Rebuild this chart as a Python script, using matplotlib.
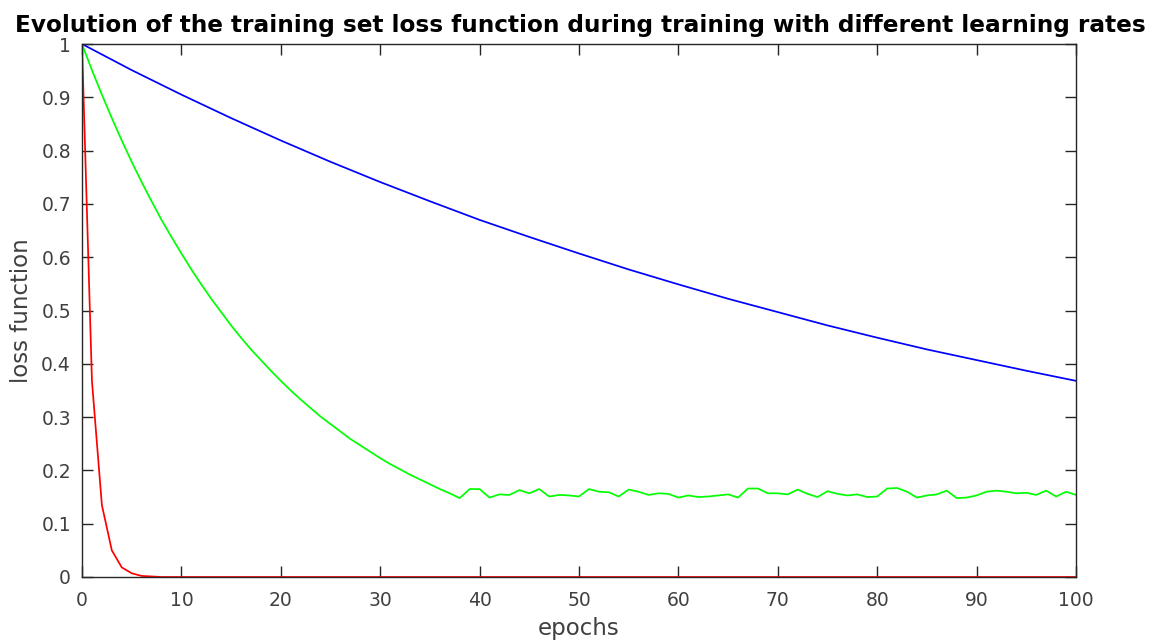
#!/usr/bin/env python3
"""Training set loss vs epochs for three learning rates."""

import matplotlib
matplotlib.use("Agg")
import matplotlib.pyplot as plt
from matplotlib.ticker import FuncFormatter

# slow learning rate (blue), read every 5 epochs
blue_epochs = [0, 5, 10, 15, 20, 25, 30, 35, 40, 45, 50,
               55, 60, 65, 70, 75, 80, 85, 90, 95, 100]
blue_loss = [1.000, 0.951, 0.905, 0.861, 0.819, 0.779, 0.741, 0.705, 0.670, 0.638, 0.607,
             0.577, 0.549, 0.522, 0.497, 0.472, 0.449, 0.427, 0.407, 0.387, 0.368]

# medium learning rate (green), one value per epoch
green_epochs = list(range(0, 101))
green_loss = [
    1.000, 0.951, 0.905, 0.861, 0.819, 0.779, 0.741, 0.705, 0.670, 0.638,
    0.607, 0.577, 0.549, 0.522, 0.497, 0.472, 0.449, 0.427, 0.407, 0.387,
    0.368, 0.350, 0.333, 0.317, 0.301, 0.287, 0.273, 0.259, 0.247, 0.235,
    0.223, 0.212, 0.202, 0.192, 0.183, 0.174, 0.165, 0.157, 0.148, 0.165,
    0.165, 0.149, 0.155, 0.154, 0.163, 0.157, 0.165, 0.151, 0.154, 0.153,
    0.151, 0.165, 0.160, 0.159, 0.151, 0.164, 0.160, 0.154, 0.157, 0.156,
    0.149, 0.153, 0.150, 0.151, 0.153, 0.155, 0.149, 0.166, 0.166, 0.157,
    0.157, 0.155, 0.164, 0.156, 0.150, 0.161, 0.156, 0.153, 0.155, 0.150,
    0.151, 0.166, 0.167, 0.160, 0.149, 0.153, 0.155, 0.162, 0.148, 0.149,
    0.153, 0.160, 0.162, 0.160, 0.157, 0.158, 0.154, 0.162, 0.151, 0.160,
    0.154,
]

# fast learning rate (red)
red_epochs = [0, 1, 2, 3, 4, 5, 6, 7, 8, 9, 10, 100]
red_loss = [1.000, 0.368, 0.135, 0.050, 0.018, 0.007, 0.002, 0.001, 0.0, 0.0, 0.0, 0.0]

x_ticks = [0, 10, 20, 30, 40, 50, 60, 70, 80, 90, 100]
y_ticks = [0, 0.1, 0.2, 0.3, 0.4, 0.5, 0.6, 0.7, 0.8, 0.9, 1]

AXIS_COLOR = "#262626"
LABEL_COLOR = "#404040"

fig = plt.figure(figsize=(11.56, 6.40), dpi=100)
ax = fig.add_axes([82 / 1156, 1 - 577 / 640, (1076 - 82) / 1156, (577 - 44) / 640])

ax.plot(blue_epochs, blue_loss, color=(0, 0, 1), lw=1.25)
ax.plot(green_epochs, green_loss, color=(0, 1, 0), lw=1.25)
ax.plot(red_epochs, red_loss, color=(1, 0, 0), lw=1.25)

ax.set_xlim(0, 100)
ax.set_ylim(0, 1)
ax.set_xticks(x_ticks)
ax.set_yticks(y_ticks)
ax.yaxis.set_major_formatter(FuncFormatter(lambda v, _: f"{v:g}"))
ax.tick_params(direction="in", length=8, width=1, colors=AXIS_COLOR,
               labelcolor=LABEL_COLOR, labelsize=13.5,
               top=True, right=True)
ax.tick_params(axis="x", pad=10)
ax.tick_params(axis="y", pad=8)
for sp in ax.spines.values():
    sp.set_color(AXIS_COLOR)
    sp.set_linewidth(1.0)

ax.set_xlabel("epochs", fontsize=16.5, color=LABEL_COLOR, labelpad=5)
ax.set_ylabel("loss function", fontsize=16.5, color=LABEL_COLOR, labelpad=6)
fig.text(580 / 1156, 1 - 32 / 640,
         "Evolution of the training set loss function during training with different learning rates",
         ha="center", va="baseline", fontsize=16.7, fontweight="bold", color="black")

fig.savefig("out.png", dpi=100)
